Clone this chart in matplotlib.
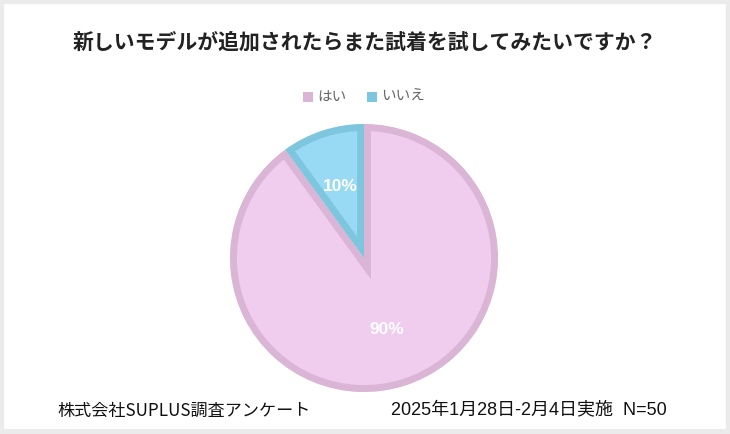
import matplotlib
matplotlib.use("Agg")
import matplotlib.pyplot as plt
from matplotlib.patches import Rectangle

plt.rcParams['font.family'] = ['Noto Sans CJK JP', 'DejaVu Sans']

title = "新しいモデルが追加されたらまた試着を試してみたいですか？"
labels = ["はい", "いいえ"]
values = [90, 10]
fill_colors = ["#f0cdee", "#98d9f3"]
edge_colors = ["#dab5d6", "#7ec6de"]
footer_left = "株式会社SUPLUS調査アンケート"
footer_right = "2025年1月28日-2月4日実施  N=50"

W, H = 730, 434
fig = plt.figure(figsize=(W / 100, H / 100), dpi=100)
fig.patch.set_facecolor("white")

# light grey frame
fig.add_artist(Rectangle((0, 0), 1, 1, transform=fig.transFigure, fill=False,
                         edgecolor="#ebebeb", linewidth=6))
fig.add_artist(Rectangle((0, 0), 1, 5 / H, transform=fig.transFigure,
                         facecolor="#ebebeb", edgecolor="none"))

# pie axes: center (364,258), radius 134 px
cx, cy, r = 364, 258, 134
ax = fig.add_axes([(cx - r) / W, 1 - (cy + r) / H, 2 * r / W, 2 * r / H])
wedges, texts, autotexts = ax.pie(
    values, colors=fill_colors, startangle=90, counterclock=False,
    autopct=lambda p: f"{p:.0f}%", pctdistance=0.56,
    wedgeprops=dict(linewidth=0),
    textprops=dict(color="white", fontsize=12.5, fontweight="bold",
                   family=["Liberation Sans", "DejaVu Sans"]),
)
ax.set_aspect("equal")
ax.set_xlim(-1, 1)
ax.set_ylim(-1, 1)
ax.axis("off")
for w, ec in zip(wedges, edge_colors):
    w.set_edgecolor(ec)
    w.set_linewidth(10)
    w.set_clip_on(True)
    w.set_clip_path(w)

# title
fig.text(365 / W, 1 - 42 / H, title, ha="center", va="center",
         fontsize=15, fontweight="bold", color="#222222")

# legend
leg_items = [(308, labels[0], edge_colors[0]), (372, labels[1], edge_colors[1])]
for x, lab, c in leg_items:
    fig.add_artist(Rectangle(((x - 5) / W, 1 - 102 / H), 10 / W, 10 / H,
                             transform=fig.transFigure, facecolor=c, edgecolor="none"))
    fig.text((x + 9) / W, 1 - 97 / H, lab, ha="left", va="center",
             fontsize=10.5, color="#666666")

# footer
fig.text(57 / W, 1 - 411 / H, footer_left, ha="left", va="center",
         fontsize=12.3, color="#111111")
fig.text(667 / W, 1 - 411 / H, footer_right, ha="right", va="center",
         fontsize=13, color="#111111",
         family=["Liberation Sans", "Noto Sans CJK JP"])

fig.savefig("out.png", dpi=100)
